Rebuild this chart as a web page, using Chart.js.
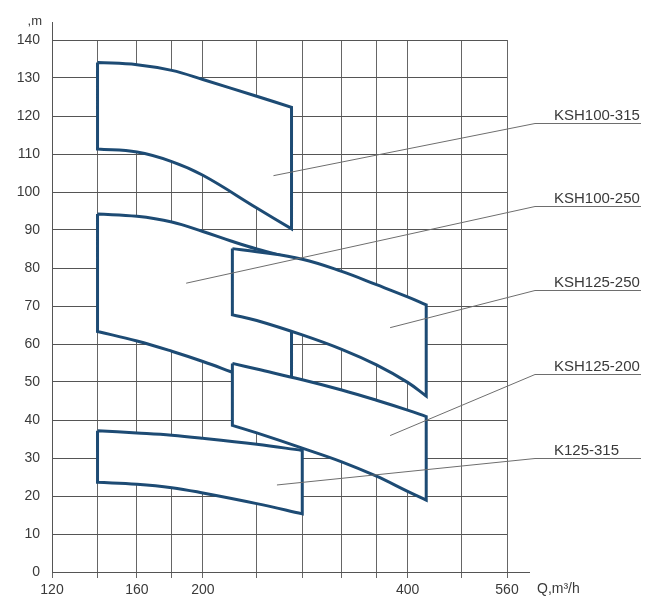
<!DOCTYPE html>
<html>
<head>
<meta charset="utf-8">
<script src="https://cdn.jsdelivr.net/npm/chart.js@4.4.1/dist/chart.umd.min.js"></script>
<style>
  html, body { margin: 0; padding: 0; background: #fff; }
  #chart { display: block; }
</style>
</head>
<body>
<canvas id="chart" width="657" height="602"></canvas>
<script>
// x grid (log paper) and the ones that get a number
const gridQ = [120, 140, 160, 180, 200, 240, 280, 320, 360, 400, 480, 560];
const labeledQ = [120, 160, 200, 400, 560];

// pump fields: flow, head of the biggest impeller (top) and of the smallest (bottom)
const ksh100_315_q = [140, 160, 180, 200, 240, 270];
const ksh100_315_top = [134.1, 133.5, 132.0, 129.6, 125.2, 122.3];
const ksh100_315_bottom = [111.3, 110.5, 108.0, 104.4, 95.8, 90.3];

const ksh100_250_q = [140, 160, 180, 200, 220, 240, 270];
const ksh100_250_top = [94.2, 93.6, 92.1, 89.6, 87.1, 85.0, 82.6];
const ksh100_250_bottom = [63.3, 60.8, 58.1, 55.4, 52.7, 50.2, 46.5];

const ksh125_250_q = [221, 240, 280, 320, 360, 400, 426];
const ksh125_250_top = [85.1, 84.3, 82.3, 79.1, 75.6, 72.4, 70.3];
const ksh125_250_bottom = [67.7, 66.2, 62.4, 58.6, 54.5, 49.9, 46.3];

const ksh125_200_q = [221, 240, 280, 320, 360, 400, 426];
const ksh125_200_top = [54.9, 53.4, 50.6, 47.9, 45.2, 42.6, 40.9];
const ksh125_200_bottom = [38.6, 36.6, 32.6, 29.0, 25.2, 21.2, 18.9];

const k125_315_q = [140, 160, 180, 200, 240, 280];
const k125_315_top = [37.2, 36.6, 36.0, 35.2, 33.6, 32.0];
const k125_315_bottom = [23.6, 23.1, 22.2, 20.8, 18.0, 15.3];

// callouts: name, point inside the field, head of the underline on the right
const calloutNames = ['KSH100-315', 'KSH100-250', 'KSH125-250', 'KSH125-200', 'K125-315'];
const calloutQ = [254, 189, 377, 377, 257];
const calloutH = [104.3, 76.0, 64.3, 35.9, 22.9];
const calloutLineH = [118.2, 96.2, 74.2, 52.1, 29.9];

const BLUE = '#1d4b74';

// closed outline: top curve left->right, right edge, bottom curve back, left edge.
// corner points are repeated so the smoothing keeps them sharp
function outline(q, top, bottom) {
  const n = q.length - 1;
  const pts = q.map((v, i) => ({ x: v, y: top[i] }));
  pts.push({ x: q[n], y: top[n] });
  pts.push({ x: q[n], y: bottom[n] });
  for (let i = n; i >= 0; i--) pts.push({ x: q[i], y: bottom[i] });
  pts.push({ x: q[0], y: bottom[0] });
  pts.push({ x: q[0], y: top[0] });
  return pts;
}

function field(label, data, order) {
  return {
    label, data, order,
    showLine: true,
    borderColor: BLUE,
    borderWidth: 3,
    backgroundColor: '#ffffff',
    fill: 'shape',
    tension: 0.4,
    pointRadius: 0,
    pointHoverRadius: 0,
    borderJoinStyle: 'miter',
  };
}

const extras = {
  id: 'extras',
  afterDatasetsDraw(chart) {
    const { ctx, chartArea: a, scales: { x, y } } = chart;
    ctx.save();
    // axis lines run a bit past the grid
    ctx.strokeStyle = '#555';
    ctx.lineWidth = 1;
    ctx.beginPath();
    ctx.moveTo(a.left + 0.5, a.top);
    ctx.lineTo(a.left + 0.5, a.top - 18);
    ctx.moveTo(a.right, a.bottom + 0.5);
    ctx.lineTo(a.right + 23, a.bottom + 0.5);
    ctx.stroke();

    // callout lines and names
    ctx.strokeStyle = '#6e6e6e';
    ctx.fillStyle = '#3a3a3a';
    ctx.font = '15px "Liberation Sans", Arial, sans-serif';
    ctx.textBaseline = 'alphabetic';
    ctx.textAlign = 'left';
    calloutNames.forEach((name, i) => {
      const x0 = x.getPixelForValue(calloutQ[i]);
      const y0 = y.getPixelForValue(calloutH[i]);
      const y1 = Math.round(y.getPixelForValue(calloutLineH[i])) + 0.5;
      ctx.beginPath();
      ctx.moveTo(x0, y0);
      ctx.lineTo(a.right + 28, y1);
      ctx.lineTo(a.right + 134, y1);
      ctx.stroke();
      ctx.fillText(name, a.right + 47, y1 - 4);
    });

    // axis titles
    ctx.font = '13px "Liberation Sans", Arial, sans-serif';
    ctx.textAlign = 'right';
    ctx.fillText(',m', a.left - 10, a.top - 15);
    ctx.textAlign = 'left';
    ctx.textBaseline = 'middle';
    ctx.font = '14px "Liberation Sans", Arial, sans-serif';
    ctx.fillText('Q,m\u00b3/h', a.right + 30, a.bottom + 17);
    ctx.restore();
  }
};

Chart.defaults.font.family = '"Liberation Sans", Arial, sans-serif';
Chart.defaults.color = '#3a3a3a';

new Chart(document.getElementById('chart'), {
  type: 'scatter',
  data: {
    datasets: [
      field('KSH125-200', outline(ksh125_200_q, ksh125_200_top, ksh125_200_bottom), 0),
      field('KSH125-250', outline(ksh125_250_q, ksh125_250_top, ksh125_250_bottom), 1),
      field('KSH100-250', outline(ksh100_250_q, ksh100_250_top, ksh100_250_bottom), 2),
      field('KSH100-315', outline(ksh100_315_q, ksh100_315_top, ksh100_315_bottom), 3),
      field('K125-315', outline(k125_315_q, k125_315_top, k125_315_bottom), 4),
    ]
  },
  options: {
    responsive: false,
    animation: false,
    devicePixelRatio: 1,
    layout: { padding: { top: 40, right: 150, bottom: 0, left: 0 } },
    plugins: {
      legend: { display: false },
      tooltip: { enabled: false },
    },
    scales: {
      x: {
        type: 'logarithmic',
        min: 120,
        max: 560,
        afterBuildTicks: (scale) => {
          scale.ticks = gridQ.map(v => ({ value: v }));
        },
        afterFit: (scale) => { scale.height = 30; },
        ticks: {
          autoSkip: false,
          maxRotation: 0,
          padding: 4,
          font: { size: 14 },
          callback: (v) => labeledQ.includes(v) ? String(v) : '',
        },
        grid: { color: '#666', lineWidth: 1, drawTicks: true, tickLength: 6 },
        border: { display: true, color: '#555', width: 1 },
      },
      y: {
        min: 0,
        max: 140,
        afterFit: (scale) => { scale.width = 52; },
        ticks: { stepSize: 10, padding: 12, font: { size: 14 } },
        grid: { color: '#555', lineWidth: 1, drawTicks: false },
        border: { display: true, color: '#555', width: 1 },
      }
    }
  },
  plugins: [extras]
});
</script>
</body>
</html>
